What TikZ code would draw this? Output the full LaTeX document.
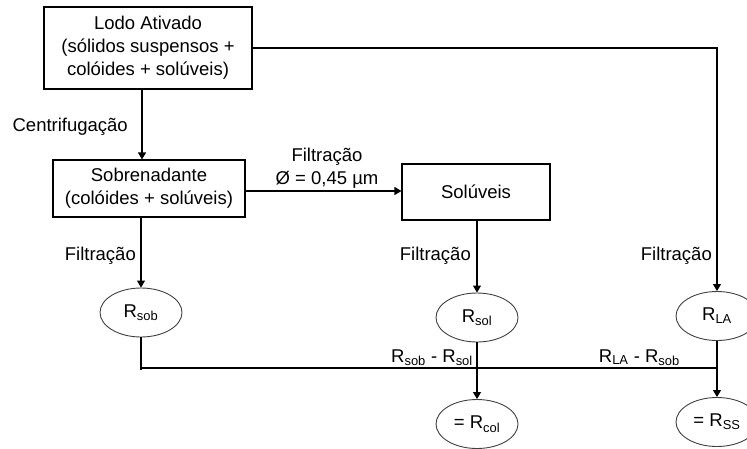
\documentclass[tikz,border=0pt]{standalone}
\usepackage{fontspec}
\setmainfont{Liberation Sans}
\usetikzlibrary{arrows.meta,shapes.geometric}
\begin{document}
\begin{tikzpicture}[x=1pt,y=-1pt,
  every node/.style={font=\fontsize{18.5}{23}\selectfont, inner sep=0pt},
  boxn/.style={draw, line width=1.1pt, align=center},
  ell/.style={draw=black!75, line width=0.9pt, ellipse, minimum width=82pt, minimum height=49pt},
  arr/.style={line width=1.1pt, -{Triangle[width=8pt,length=7pt]}},
  ln/.style={line width=1.1pt},
  lbl/.style={align=center}]
\useasboundingbox (0,0) rectangle (747,448);
\node[boxn, minimum width=208pt, minimum height=82pt] (la) at (148,48) {Lodo Ativado\\(sólidos suspensos +\\colóides + solúveis)};
\node[boxn, minimum width=192pt, minimum height=57pt] (sob) at (149,188.5) {Sobrenadante\\(colóides + solúveis)};
\node[boxn, minimum width=148pt, minimum height=56pt] (sol) at (476,192) {Solúveis};
\node[ell] (rsob) at (141,312.5) {R\textsubscript{sob}};
\node[ell] (rsol) at (477,317.5) {R\textsubscript{sol}};
\node[ell] (rla) at (717,316) {R\textsubscript{LA}};
\node[ell] (rcol) at (477,424) {= R\textsubscript{col}};
\node[ell] (rss) at (717,422) {= R\textsubscript{SS}};
\coordinate (a) at (142,0);
\coordinate (j) at (717,368);
\node[anchor=east] (c) at (128,127) {Centrifugação};
\node[lbl] (f0) at (327,168) {Filtração\\Ø = 0,45 µm};
\node[anchor=east] (f1) at (136,256) {Filtração};
\node[anchor=east] (f2) at (471,256) {Filtração};
\node[anchor=east] (f3) at (712,256) {Filtração};
\node[anchor=base east] (d1) at (473,362) {R\textsubscript{sob} - R\textsubscript{sol}};
\node[anchor=base east] (d2) at (680,362) {R\textsubscript{LA} - R\textsubscript{sob}};
\draw[arr] (la.south -| a) -- (sob.north -| a);
\draw[arr] (la.east) -| (rla.north);
\draw[arr] (sob.east |- 0,191) -- (sol.west |- 0,191);
\draw[arr] (sob.south -| rsob) -- (rsob.north);
\draw[arr] (sol.south -| rsol) -- (rsol.north);
\draw[ln] (rsob.south) -- (rsob.south |- 0,370);
\draw[ln] (rsob.south |- j) -- (j);
\draw[arr] (rsol.south) -- (rcol.north);
\draw[arr] (rla.south) -- (rss.north);
\end{tikzpicture}
\end{document}
